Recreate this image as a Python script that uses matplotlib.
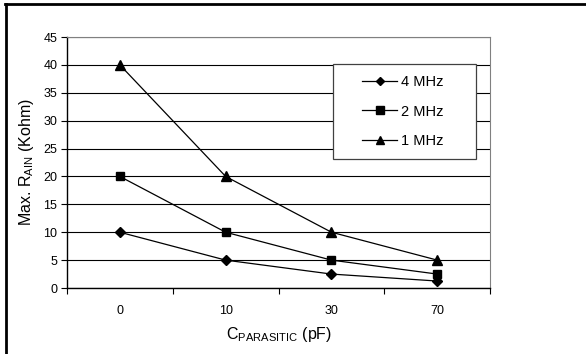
import matplotlib
matplotlib.use("Agg")
import matplotlib.pyplot as plt
from matplotlib.lines import Line2D
from matplotlib.patches import Rectangle

plt.rcParams["font.family"] = ["Liberation Sans", "DejaVu Sans"]
plt.rcParams["mathtext.fontset"] = "custom"
plt.rcParams["mathtext.rm"] = "Liberation Sans"

# データ
c_parasitic = ["0", "10", "30", "70"]
r_4mhz = [10, 5, 2.5, 1.25]
r_2mhz = [20, 10, 5, 2.5]
r_1mhz = [40, 20, 10, 5]
series_labels = ["4 MHz", "2 MHz", "1 MHz"]
y_ticks = [0, 5, 10, 15, 20, 25, 30, 35, 40, 45]

fig = plt.figure(figsize=(5.86, 3.54), dpi=100)
ax = fig.add_axes([0.1143, 0.1864, 0.7222, 0.709])

x = list(range(len(c_parasitic)))
for vals, mk, ms, lab in zip(
    (r_4mhz, r_2mhz, r_1mhz), ("D", "s", "^"), (5, 6, 7), series_labels
):
    ax.plot(x, vals, color="black", lw=0.9, marker=mk, markersize=ms,
            label=lab, clip_on=False, zorder=3)

ax.set_xlim(-0.5, len(c_parasitic) - 0.5)
ax.set_ylim(0, 45)
ax.set_yticks(y_ticks)
ax.yaxis.grid(True, color="black", lw=0.8)
ax.set_axisbelow(True)

# カテゴリ境界に目盛り
ax.set_xticks([i - 0.5 for i in range(len(c_parasitic) + 1)])
ax.set_xticklabels([])
ax.set_xticks(x, minor=True)
ax.set_xticklabels(c_parasitic, minor=True)
ax.tick_params(axis="x", which="minor", length=0, pad=12, labelsize=9)
ax.tick_params(axis="x", which="major", length=4, width=0.8, direction="out")
ax.tick_params(axis="y", length=4, width=0.8, direction="out", labelsize=9, pad=3)

for side in ("top", "right"):
    ax.spines[side].set_color("#808080")
for side in ("left", "bottom"):
    ax.spines[side].set_color("black")
    ax.spines[side].set_linewidth(1.0)

ax.set_ylabel(r"Max. R$_{\mathregular{AIN}}$ (Kohm)", fontsize=11.5, labelpad=5)
ax.set_xlabel(r"C$_{\mathregular{PARASITIC}}$ (pF)", fontsize=11.5, labelpad=6)

# 凡例（枠は別に描く）
ax.add_patch(Rectangle((0.629, 0.514), 0.338, 0.378, transform=ax.transAxes,
                       facecolor="white", edgecolor="#404040", lw=0.9,
                       zorder=4, clip_on=False))
leg = ax.legend(loc="center left", bbox_to_anchor=(0.68, 0.703),
                fontsize=10.5, frameon=False, borderpad=0,
                handlelength=2.4, handletextpad=0.25, labelspacing=1.05,
                markerscale=0.85)
leg.set_zorder(5)

# 外枠
fig.add_artist(Line2D([0.0105, 0.0105], [0.0, 0.988], color="black", lw=2,
                      transform=fig.transFigure))
fig.add_artist(Line2D([0.0088, 1.0], [0.988, 0.988], color="black", lw=2,
                      transform=fig.transFigure))

fig.savefig("out.png", dpi=100)
plt.close(fig)
